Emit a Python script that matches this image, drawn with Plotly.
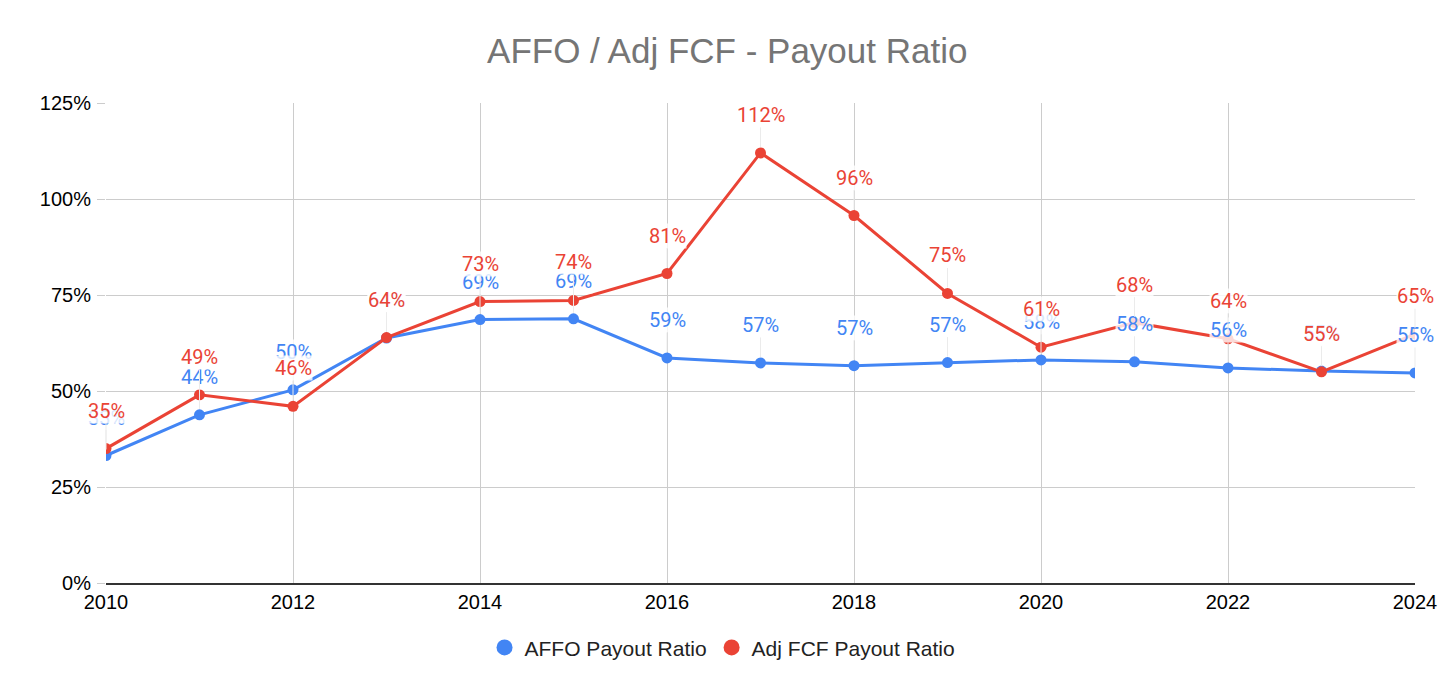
import plotly.graph_objects as go

years = list(range(2010, 2025))
affo_ratio = [33.2, 43.8, 50.3, 63.8, 68.6, 68.8, 58.6, 57.3, 56.6, 57.4, 58.1, 57.6, 56.0, 55.2, 54.7]
fcf_ratio = [35.0, 49.0, 46.0, 63.9, 73.3, 73.6, 80.6, 112.0, 95.7, 75.4, 61.4, 67.8, 63.6, 55.0, 64.8]

blue = '#4285f4'
red = '#ea4335'
arial = 'Arial, Liberation Sans, sans-serif'
roboto = 'Roboto, Arial, sans-serif'

fig = go.Figure()
# one lines+markers trace per series, legend entries are separate big circles
for name, vals, col in [('AFFO Payout Ratio', affo_ratio, blue), ('Adj FCF Payout Ratio', fcf_ratio, red)]:
    fig.add_trace(go.Scatter(x=years, y=vals, name=name, mode='lines+markers',
                             line=dict(color=col, width=3), marker=dict(color=col, size=11),
                             showlegend=False))
for name, col in [('AFFO Payout Ratio', blue), ('Adj FCF Payout Ratio', red)]:
    fig.add_trace(go.Scatter(x=[None], y=[None], name=name, mode='markers',
                             marker=dict(color=col, size=17)))

# data labels above the points, blue first so red sits on top
for vals, col in [(affo_ratio, blue), (fcf_ratio, red)]:
    for x, v in zip(years, vals):
        fig.add_annotation(x=x, y=v, text='%d%%' % round(v), showarrow=True,
                           ax=0, ay=-38, arrowhead=0, arrowwidth=1, arrowcolor='#ebebeb',
                           standoff=6, font=dict(family=roboto, size=20, color=col),
                           bgcolor='rgba(255,255,255,0.8)', borderpad=0)

fig.update_layout(
    width=1456, height=694,
    paper_bgcolor='white', plot_bgcolor='white',
    margin=dict(l=98, r=49, t=95, b=119),
    title=dict(text='AFFO / Adj FCF - Payout Ratio', x=0.494, xanchor='center', y=0.939, yanchor='middle',
               font=dict(family=arial, size=35, color='#757575')),
    font=dict(family=arial, size=20, color='#000000'),
    showlegend=True,
    legend=dict(orientation='h', x=0.471, xanchor='center', y=-0.135, yanchor='middle',
                font=dict(family=arial, size=21, color='#222222'), itemsizing='trace'),
    xaxis=dict(range=[2010, 2024], tick0=2010, dtick=2, showgrid=True, gridcolor='#cccccc', gridwidth=1,
               showline=True, linecolor='#333333', linewidth=2, ticks='', zeroline=False,
               tickfont=dict(family=arial, size=20, color='#000000')),
    yaxis=dict(range=[0, 125], dtick=25, ticksuffix='%', showgrid=True, gridcolor='#cccccc', gridwidth=1,
               zeroline=False, showline=False, ticks='outside', ticklen=8, tickcolor='#cccccc',
               ticklabelstandoff=2, tickfont=dict(family=arial, size=20, color='#000000')),
)

fig.write_html("out.html")
